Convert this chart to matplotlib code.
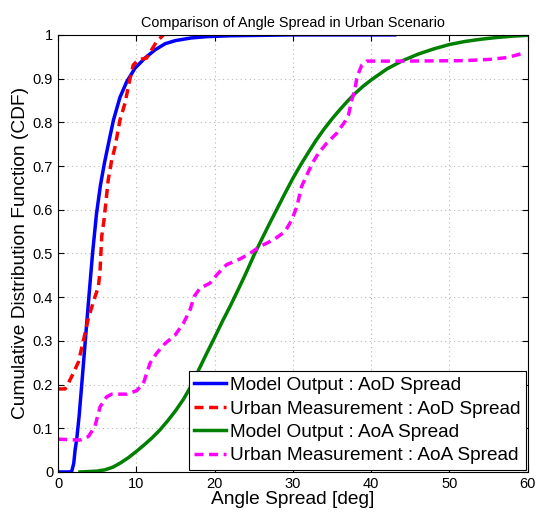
import matplotlib
matplotlib.use("Agg")
import matplotlib.pyplot as plt
from matplotlib.ticker import FuncFormatter

# values
aod_model_x = [0, 1.5, 1.75, 2.0, 2.17, 2.38, 2.68, 3.02, 3.36, 3.7, 4.0, 4.4, 4.9, 5.4,
               5.9, 6.5, 7.07, 7.9, 8.77, 9.83, 11.1, 12.4, 13.7, 15, 17, 19, 22, 26, 30, 43]
aod_model_y = [0, 0, 0.002, 0.02, 0.05, 0.075, 0.127, 0.2, 0.275, 0.35, 0.415, 0.5, 0.59,
               0.655, 0.705, 0.757, 0.805, 0.857, 0.893, 0.924, 0.947, 0.966, 0.98, 0.987,
               0.993, 0.996, 0.998, 0.999, 1.0, 1.0]

aod_meas_x = [0, 0.9, 1.3, 1.95, 2.6, 3.15, 3.87, 4.7, 5.15, 5.36, 5.58, 5.87, 6.4, 6.85,
              7.28, 7.9, 8.55, 9.1, 9.6, 10.25, 11.3, 11.95, 12.6, 13.45]
aod_meas_y = [0.19, 0.19, 0.203, 0.226, 0.252, 0.294, 0.352, 0.40, 0.424, 0.462, 0.54,
              0.577, 0.668, 0.714, 0.744, 0.805, 0.844, 0.893, 0.931, 0.943, 0.947, 0.966,
              0.985, 1.0]

aoa_model_x = [2.8, 4, 5, 6, 7, 8, 9, 10, 11, 12, 13, 14, 15, 16, 17, 18, 19, 20, 21, 22,
               23, 24, 25, 26, 27, 28, 29, 30, 31, 32, 33, 34, 35, 36, 37, 38, 39, 40, 42,
               44, 46, 48, 50, 52, 54, 56, 58, 60]
aoa_model_y = [0, 0.001, 0.002, 0.005, 0.011, 0.021, 0.033, 0.047, 0.062, 0.078, 0.096,
               0.117, 0.14, 0.166, 0.197, 0.235, 0.272, 0.308, 0.345, 0.38, 0.417, 0.455,
               0.495, 0.532, 0.568, 0.603, 0.638, 0.672, 0.703, 0.732, 0.76, 0.785, 0.808,
               0.829, 0.849, 0.867, 0.883, 0.897, 0.922, 0.941, 0.956, 0.968, 0.978, 0.985,
               0.99, 0.994, 0.997, 0.999]

aoa_meas_x = [0, 2.8, 3.87, 4.7, 5.36, 6.2, 6.86, 8.77, 10.05, 10.9, 11.75, 12.6, 13.67,
              14.94, 16.0, 16.86, 17.37, 18.1, 19.4, 20.27, 21.5, 23.2, 24.5, 25.8, 27.5,
              29.0, 29.85, 30.5, 31.1, 31.97, 32.6, 33.25, 34.3, 35.6, 36.65, 37.1, 37.5,
              37.9, 38.2, 38.8, 39.4, 43.25, 51.8, 55.2, 57.3, 58.6, 59.6]
aoa_meas_y = [0.075, 0.073, 0.081, 0.104, 0.149, 0.172, 0.178, 0.178, 0.186, 0.203, 0.249,
              0.272, 0.294, 0.313, 0.34, 0.371, 0.401, 0.42, 0.432, 0.451, 0.474, 0.487,
              0.50, 0.516, 0.531, 0.55, 0.577, 0.607, 0.653, 0.687, 0.71, 0.729, 0.752,
              0.775, 0.802, 0.817, 0.85, 0.874, 0.905, 0.931, 0.94, 0.94, 0.941, 0.944,
              0.948, 0.954, 0.959]

labels = ['Model Output : AoD Spread', 'Urban Measurement : AoD Spread',
          'Model Output : AoA Spread', 'Urban Measurement : AoA Spread']

plt.rcParams['font.family'] = ['Liberation Sans', 'DejaVu Sans']

fig = plt.figure(figsize=(5.38, 5.13), dpi=100)
ax = fig.add_axes([0.108, 0.080, 0.873, 0.852])

dash = (0, (2.6, 1.6))
ax.plot(aod_model_x, aod_model_y, color='#0000ff', lw=2.5, label=labels[0])
ax.plot(aod_meas_x, aod_meas_y, color='#ff0000', lw=2.5, ls=dash, label=labels[1])
ax.plot(aoa_model_x, aoa_model_y, color='#008000', lw=2.5, label=labels[2])
ax.plot(aoa_meas_x, aoa_meas_y, color='#ff00ff', lw=2.5, ls=dash, label=labels[3])

ax.set_xlim(0, 60)
ax.set_ylim(0, 1)
ax.set_xticks(range(0, 61, 10))
ax.set_yticks([i / 10 for i in range(11)])
ax.yaxis.set_major_formatter(FuncFormatter(lambda v, p: f'{v:g}'))
ax.tick_params(direction='in', top=True, right=True, labelsize=10.5, length=4)
ax.grid(True, ls=(0, (1, 3)), color='#b8b8b8', lw=0.8)

ax.set_title('Comparison of Angle Spread in Urban Scenario', fontsize=10.4, pad=6)
ax.set_xlabel('Angle Spread [deg]', fontsize=13.8, labelpad=0)
ax.set_ylabel('Cumulative Distribution Function (CDF)', fontsize=13.8, labelpad=3)

leg = ax.legend(loc='lower right', fontsize=13.7, handlelength=1.65, handletextpad=0.2,
                borderpad=0.3, labelspacing=0.32, fancybox=False, framealpha=1,
                borderaxespad=0.1)
leg.get_frame().set_edgecolor('black')
leg.get_frame().set_linewidth(0.8)

fig.savefig('out.png', dpi=100)
